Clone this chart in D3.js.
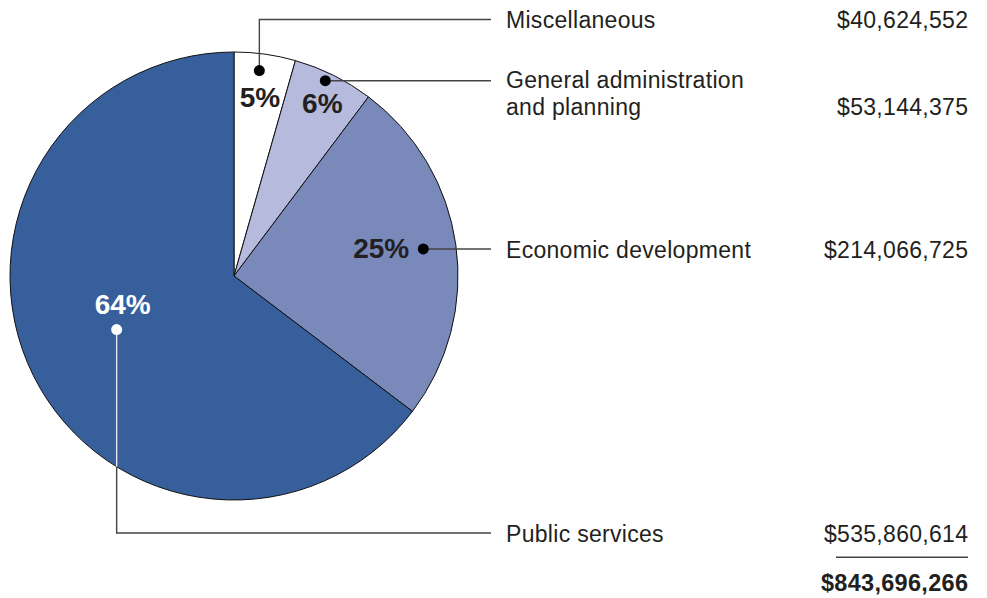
<!DOCTYPE html>
<html>
<head>
<meta charset="utf-8">
<script src="https://cdn.jsdelivr.net/npm/d3@7"></script>
<style>
  html, body { margin: 0; padding: 0; background: #fff; }
  svg { display: block; }
  text { font-family: "Liberation Sans", Arial, Helvetica, sans-serif; fill: #231f20; }
</style>
</head>
<body>
<svg id="chart" width="987" height="598"></svg>
<script>
// ---- data ----
const categories = ["Miscellaneous", "General administration and planning", "Economic development", "Public services"];
const labelLines = [["Miscellaneous"], ["General administration", "and planning"], ["Economic development"], ["Public services"]];
const values = [40624552, 53144375, 214066725, 535860614];
// slice shares as drawn in the reference picture (percent)
const sliceShares = [4.42, 5.83, 25.08, 64.67];
const percentLabels = ["5%", "6%", "25%", "64%"];
const totalValue = 843696266;
const colors = ["#ffffff", "#b6badc", "#7889ba", "#365f9b"];

// ---- layout ----
const svg = d3.select("#chart");
const cx = 234, cy = 276, R = 224;
const labelX = 506, valueX = 968, leaderEndX = 491;
const leaderY = [19.5, 80.7, 249, 533];
const dotFrac = [0.442, 0.436, 0.498, 0.508];
const dotR = [207, 215.6, 191.2, 129];
const pctDx = [0.7, -3, -14, 6];
const pctDy = [36, 32, 9, -16];
const pctAnchor = ["middle", "middle", "end", "middle"];
const pctFill = ["#231f20", "#231f20", "#231f20", "#ffffff"];
const dotFill = ["#000", "#000", "#000", "#fff"];
const lineColor = "#444";

const pie = d3.pie().sort(null).value(d => d)(sliceShares);
const arc = d3.arc().innerRadius(0).outerRadius(R);

const g = svg.append("g").attr("transform", `translate(${cx},${cy})`);
g.selectAll("path.slice").data(pie).join("path")
  .attr("class", "slice")
  .attr("d", arc)
  .attr("fill", (d, i) => colors[i])
  .attr("stroke", "#111")
  .attr("stroke-width", 1)
  .attr("stroke-linejoin", "round");

// dot positions
const dots = pie.map((d, i) => {
  const a = d.startAngle + dotFrac[i] * (d.endAngle - d.startAngle);
  return [cx + dotR[i] * Math.sin(a), cy - dotR[i] * Math.cos(a)];
});

const lines = svg.append("g").attr("fill", "none").attr("stroke-width", 1.4);
dots.forEach((p, i) => {
  const [x, y] = p;
  if (i === 0) {
    lines.append("path").attr("stroke", lineColor)
      .attr("d", `M${x},${y}V${leaderY[i]}H${leaderEndX}`);
  } else if (i === 3) {
    const edgeY = cy + Math.sqrt(R * R - (x - cx) * (x - cx));
    lines.append("path").attr("stroke", "#e6e6e6")
      .attr("d", `M${x},${y}V${edgeY}`);
    lines.append("path").attr("stroke", lineColor)
      .attr("d", `M${x},${edgeY}V${leaderY[i]}H${leaderEndX}`);
  } else {
    lines.append("path").attr("stroke", lineColor)
      .attr("d", `M${x},${leaderY[i]}H${leaderEndX}`);
  }
});

svg.append("g").selectAll("circle").data(dots).join("circle")
  .attr("cx", d => d[0]).attr("cy", d => d[1]).attr("r", 5.5)
  .attr("fill", (d, i) => dotFill[i]);

// percent labels
svg.append("g").selectAll("text").data(dots).join("text")
  .attr("x", (d, i) => d[0] + pctDx[i])
  .attr("y", (d, i) => d[1] + pctDy[i])
  .attr("text-anchor", (d, i) => pctAnchor[i])
  .style("fill", (d, i) => pctFill[i])
  .attr("font-size", 28).attr("font-weight", "bold")
  .text((d, i) => percentLabels[i]);

// category labels and values
const fmt = d3.format("$,");
const lineH = 27;
const fs = 23, ls = 0.3;
categories.forEach((c, i) => {
  const lines_ = labelLines[i];
  const base = leaderY[i] + (lines_.length > 1 ? 7.5 : 8.5);
  const t = svg.append("text").attr("font-size", fs).attr("letter-spacing", ls + "px")
    .attr("x", labelX).attr("y", base);
  lines_.forEach((l, k) => {
    t.append("tspan").attr("x", labelX).attr("dy", k === 0 ? 0 : lineH).text(l);
  });
  const lastBase = base + (lines_.length - 1) * lineH;
  svg.append("text").attr("font-size", fs).attr("letter-spacing", ls + "px")
    .attr("x", valueX + ls).attr("y", lastBase).attr("text-anchor", "end")
    .text(fmt(values[i]));
});

// total
svg.append("line").attr("x1", 836).attr("x2", 968).attr("y1", 557.3).attr("y2", 557.3)
  .attr("stroke", lineColor).attr("stroke-width", 1.4);
svg.append("text").attr("font-size", 23.5).attr("font-weight", "bold").attr("letter-spacing", "0.3px")
  .attr("x", valueX + 0.3).attr("y", 591).attr("text-anchor", "end")
  .text(fmt(totalValue));
</script>
</body>
</html>
